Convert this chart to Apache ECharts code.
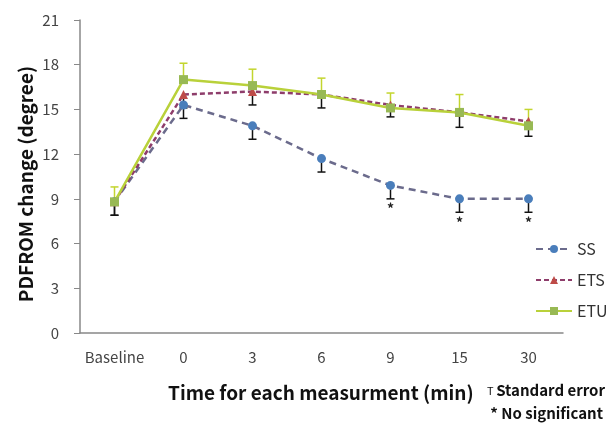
<!DOCTYPE html>
<html>
<head>
  <meta charset="UTF-8">
  <title>PDFROM</title>
  <script src="https://cdn.jsdelivr.net/npm/echarts@6/dist/echarts.min.js"></script>
  <style>
    html, body { margin: 0; padding: 0; background: #fff; }
  </style>
</head>
<body>
<div id="main" style="width: 616px; height: 426px;"></div>
<script type="text/javascript">
  var categories = ['Baseline', '0', '3', '6', '9', '15', '30'];
  var ssMean  = [8.8, 15.3, 13.9, 11.7, 9.9, 9.0, 9.0];
  var etsMean = [8.8, 16.0, 16.2, 16.0, 15.3, 14.8, 14.2];
  var etuMean = [8.8, 17.0, 16.6, 16.0, 15.1, 14.8, 13.9];
  var ssErr   = [0.9, 0.9, 0.9, 0.9, 0.9, 0.9, 0.9];
  var etsErr  = [0.9, 0.9, 0.9, 0.9, 0.8, 1.0, 1.0];
  var etuErr  = [1.0, 1.1, 1.1, 1.1, 1.0, 1.2, 1.1];
  var ssStar  = [0, 0, 0, 0, 1, 1, 1];

  var font = '"Noto Sans CJK KR", "Noto Sans", sans-serif';

  // error bar: dir -1 = down, 1 = up
  function errorSeries(name, mean, err, dir, color, stars) {
    var data = mean.map(function (v, i) {
      return [i, v, err[i], stars ? stars[i] : 0];
    });
    return {
      name: name + ' err',
      type: 'custom',
      data: data,
      z: 1,
      silent: true,
      renderItem: function (params, api) {
        var x = api.value(0), m = api.value(1), e = api.value(2);
        var p0 = api.coord([x, m]);
        var p1 = api.coord([x, m + dir * e]);
        var children = [
          {type: 'line', shape: {x1: p0[0], y1: p0[1], x2: p1[0], y2: p1[1]},
            style: {stroke: color, lineWidth: 1.5}},
          {type: 'line', shape: {x1: p1[0] - 4, y1: p1[1], x2: p1[0] + 4, y2: p1[1]},
            style: {stroke: color, lineWidth: 1.5}}
        ];
        if (api.value(3)) {
          children.push({type: 'text', x: p1[0], y: p1[1] + 3,
            style: {text: '*', fill: '#222', font: 'bold 14px ' + font, align: 'center', verticalAlign: 'top'}});
        }
        return {type: 'group', children: children};
      }
    };
  }

  var myChart = echarts.init(document.getElementById('main'));

  var option = {
    animation: false,
    grid: {left: 80, right: 53, top: 20, bottom: 93},
    legend: {
      orient: 'vertical',
      left: 530,
      top: 236,
      itemWidth: 36,
      itemHeight: 10,
      itemGap: 15,
      textStyle: {fontSize: 16, color: '#333', fontFamily: font},
      data: ['SS', 'ETS', 'ETU']
    },
    xAxis: {
      type: 'category',
      data: categories,
      axisLine: {lineStyle: {color: '#888', width: 1.5}},
      axisTick: {show: false},
      axisLabel: {fontSize: 15, color: '#444', fontFamily: font, margin: 17, interval: 0}
    },
    yAxis: {
      type: 'value',
      min: 0,
      max: 21,
      interval: 3,
      axisLine: {show: true, lineStyle: {color: '#888', width: 1.5}},
      axisTick: {show: true, length: 6, lineStyle: {color: '#888'}},
      splitLine: {show: false},
      axisLabel: {fontSize: 15, color: '#444', fontFamily: font, margin: 21}
    },
    graphic: [
      {type: 'text', x: 26, y: 184, rotation: Math.PI / 2,
        style: {text: 'PDFROM change (degree)', font: 'bold 19px ' + font, fill: '#111', align: 'center', verticalAlign: 'middle'}},
      {type: 'text', x: 168, y: 393,
        style: {text: 'Time for each measurment (min)', font: 'bold 19px ' + font, fill: '#111', verticalAlign: 'middle'}},
      {type: 'text', x: 487, y: 391,
        style: {text: 'T', font: '11px ' + font, fill: '#111', verticalAlign: 'middle'}},
      {type: 'text', x: 605, y: 390,
        style: {text: 'Standard error', font: 'bold 15px ' + font, fill: '#111', align: 'right', verticalAlign: 'middle'}},
      {type: 'text', x: 603, y: 413,
        style: {text: '* No significant', font: 'bold 15px ' + font, fill: '#111', align: 'right', verticalAlign: 'middle'}}
    ],
    series: [
      errorSeries('SS', ssMean, ssErr, -1, '#111', ssStar),
      errorSeries('ETS', etsMean, etsErr, -1, '#111'),
      errorSeries('ETU', etuMean, etuErr, 1, '#c3d52e'),
      {
        name: 'SS', type: 'line', data: ssMean, z: 3,
        symbol: 'circle', symbolSize: 9,
        itemStyle: {color: '#4a7ebb'},
        lineStyle: {color: '#6b6b8c', width: 2.5, type: [7, 5]}
      },
      {
        name: 'ETS', type: 'line', data: etsMean, z: 3,
        symbol: 'triangle', symbolSize: 9,
        itemStyle: {color: '#be4b48'},
        lineStyle: {color: '#8e3d6b', width: 2.5, type: [5, 3]}
      },
      {
        name: 'ETU', type: 'line', data: etuMean, z: 4,
        symbol: 'rect', symbolSize: 9,
        itemStyle: {color: '#98b954'},
        lineStyle: {color: '#b9d13a', width: 2.5}
      }
    ]
  };

  myChart.setOption(option);
</script>
</body>
</html>
